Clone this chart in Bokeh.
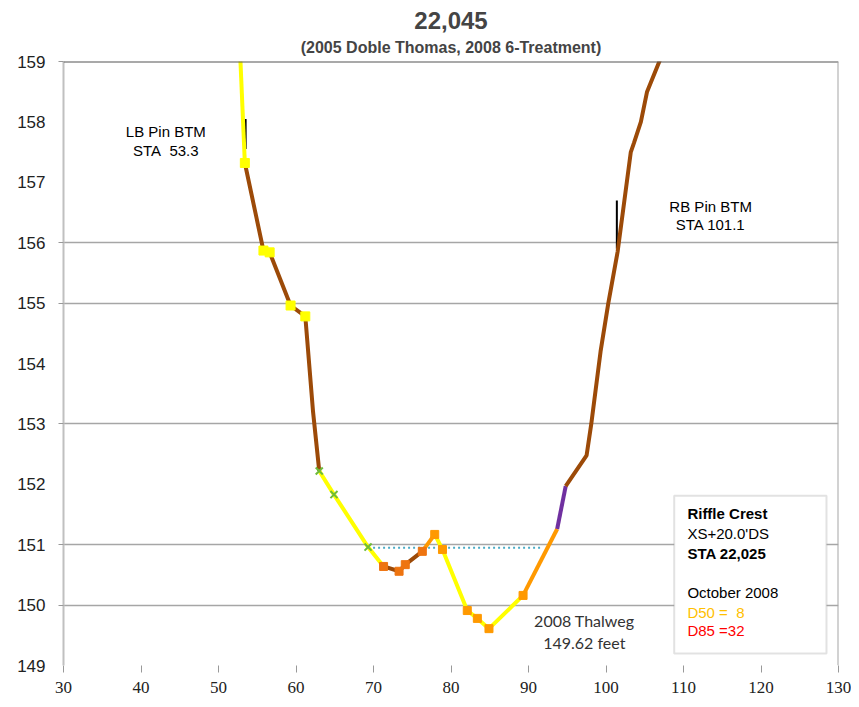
from bokeh.plotting import figure
from bokeh.models import Range1d, FixedTicker, Label, BoxAnnotation, Span, Title
from bokeh.embed import file_html
from bokeh.resources import INLINE

# ---- data (station ft, elevation ft) ----
seg1_x = [52.7, 53.4]
seg1_y = [159.4, 157.32]
seg2_x = [53.4, 55.8, 56.6, 59.3, 61.2, 62.2, 63.0]
seg2_y = [157.32, 155.87, 155.84, 154.96, 154.78, 153.2, 152.22]
seg3_x = [63.0, 64.9, 69.3, 71.3]
seg3_y = [152.22, 151.83, 150.96, 150.64]
seg4_x = [71.3, 73.3, 74.1, 76.3]
seg4_y = [150.64, 150.56, 150.67, 150.89]
seg5_x = [76.3, 77.9]
seg5_y = [150.89, 151.17]
seg6_x = [77.9, 78.9, 82.1, 83.4, 84.9, 89.3]
seg6_y = [151.17, 150.92, 149.91, 149.78, 149.61, 150.16]
seg7_x = [89.3, 93.7]
seg7_y = [150.16, 151.26]
seg8_x = [93.7, 94.8]
seg8_y = [151.26, 151.97]
seg9_x = [94.8, 97.5, 98.1, 99.3, 100.3, 101.5, 103.2, 103.6, 104.5, 105.3, 107.2]
seg9_y = [151.97, 152.48, 153.0, 154.2, 155.0, 155.85, 157.5, 157.65, 158.0, 158.5, 159.1]

yellow_sq_x = [53.4, 55.8, 56.6, 59.3, 61.2]
yellow_sq_y = [157.32, 155.87, 155.84, 154.96, 154.78]
green_x_x = [63.0, 64.9, 69.3]
green_x_y = [152.22, 151.83, 150.96]
orange_dk_x = [71.3, 73.3, 74.1, 76.3]
orange_dk_y = [150.64, 150.56, 150.67, 150.89]
orange_sq_x = [77.9, 78.9, 82.1, 83.4, 84.9, 89.3]
orange_sq_y = [151.17, 150.92, 149.91, 149.78, 149.61, 150.16]

water_x = [69.3, 91.6]
water_y = [150.95, 150.95]

lb_pin_x = [53.5, 53.5]
lb_pin_y = [157.55, 158.05]
rb_pin_x = [101.4, 101.4]
rb_pin_y = [155.9, 156.7]

x_ticks = [30, 40, 50, 60, 70, 80, 90, 100, 110, 120, 130]
y_ticks = [149, 150, 151, 152, 153, 154, 155, 156, 157, 158, 159]
grid_levels = [150, 151, 153, 155, 156]
y_minor = [150, 151, 153, 155, 156, 159]

BROWN = "#9C4A08"
YELLOW = "#FFFF00"
ORANGE = "#FF9900"
DKORANGE = "#EE7410"
PURPLE = "#7030A0"
NB = "\u00a0"

p = figure(width=851, height=699, x_range=Range1d(30, 130), y_range=Range1d(149, 159),
           output_backend="svg", toolbar_location=None, title=None,
           min_border_left=63, min_border_right=13, min_border_top=61, min_border_bottom=34)
p.outline_line_color = None
p.background_fill_color = "white"
p.xgrid.visible = False
p.ygrid.ticker = FixedTicker(ticks=grid_levels)
p.ygrid.grid_line_color = "#A6A6A6"
p.ygrid.grid_line_width = 1.3

p.xaxis.ticker = FixedTicker(ticks=x_ticks)
p.xaxis.axis_line_color = None
p.xaxis.major_tick_line_color = "#999999"
p.xaxis.major_tick_in = 0
p.xaxis.major_tick_out = 7
p.xaxis.minor_tick_line_color = None
p.xaxis.major_label_standoff = 9
p.xaxis.major_label_text_font = "Liberation Sans Narrow"
p.xaxis.major_label_text_font_size = "17px"
p.xaxis.major_label_text_color = "#222222"

p.yaxis.ticker = FixedTicker(ticks=y_ticks, minor_ticks=y_minor)
p.yaxis.axis_line_color = "#C0C0C0"
p.yaxis.axis_line_width = 2
p.yaxis.major_tick_line_color = None
p.yaxis.major_tick_in = 0
p.yaxis.major_tick_out = 5
p.yaxis.minor_tick_line_color = "#999999"
p.yaxis.minor_tick_in = 0
p.yaxis.minor_tick_out = 5
p.yaxis.major_label_standoff = 13
p.yaxis.major_label_text_font = "Liberation Sans"
p.yaxis.major_label_text_font_size = "17px"
p.yaxis.major_label_text_color = "#222222"

p.add_layout(Title(text="(2005 Doble Thomas, 2008 6-Treatment)", align="center", offset=-15,
                   text_font="Liberation Sans", text_font_size="16px", text_font_style="bold",
                   standoff=12), "above")
p.add_layout(Title(text="22,045", align="center", offset=-15,
                   text_font="Liberation Sans", text_font_size="24px", text_font_style="bold",
                   standoff=4), "above")

p.add_layout(Span(location=159, dimension="width", line_color="#555555", line_width=2))
p.add_layout(Span(location=130, dimension="height", line_color="#A6A6A6", line_width=2))

# water surface
p.line(water_x, water_y, line_color="#4BACC6", line_width=2, line_dash="2 3")

# pins
p.line(lb_pin_x, lb_pin_y, line_color="black", line_width=2)
p.line(rb_pin_x, rb_pin_y, line_color="black", line_width=2)

# profile segments
LW = 4
p.line(seg1_x, seg1_y, line_color=YELLOW, line_width=LW)
p.line(seg2_x, seg2_y, line_color=BROWN, line_width=LW)
p.line(seg3_x, seg3_y, line_color=YELLOW, line_width=LW)
p.line(seg4_x, seg4_y, line_color=BROWN, line_width=LW)
p.line(seg5_x, seg5_y, line_color=ORANGE, line_width=LW)
p.line(seg6_x, seg6_y, line_color=YELLOW, line_width=LW)
p.line(seg7_x, seg7_y, line_color=ORANGE, line_width=LW)
p.line(seg8_x, seg8_y, line_color=PURPLE, line_width=LW)
p.line(seg9_x, seg9_y, line_color=BROWN, line_width=LW)

# markers
p.scatter(yellow_sq_x, yellow_sq_y, marker="square", size=9, fill_color=YELLOW, line_color=YELLOW)
p.scatter(green_x_x, green_x_y, marker="x", size=10, line_color="#6DBB3A", line_width=2)
p.scatter(orange_dk_x, orange_dk_y, marker="square", size=8, fill_color=DKORANGE, line_color=DKORANGE)
p.scatter(orange_sq_x, orange_sq_y, marker="square", size=8, fill_color=ORANGE, line_color=ORANGE)

# info box
p.add_layout(BoxAnnotation(left=108.8, right=128.45, top=151.81, bottom=149.2,
                           fill_color="white", fill_alpha=1.0, line_color="#A0A0A0", line_width=2))

def lab(x, y, text, size="15px", color="black", style="normal", align="center", font="Liberation Sans"):
    p.add_layout(Label(x=x, y=y, text=text, text_align=align, text_baseline="middle",
                       text_font=font, text_font_size=size, text_color=color, text_font_style=style))

lab(43.2, 157.84, "LB Pin BTM")
lab(43.2, 157.53, "STA" + NB + " 53.3")
lab(113.5, 156.6, "RB Pin BTM")
lab(113.5, 156.3, "STA 101.1")
lab(97.2, 149.75, "2008 Thalweg", size="16px", font="Lato", color="#333333")
lab(97.2, 149.38, "149.62 feet", size="16px", font="Lato", color="#333333")

lab(110.5, 151.52, "Riffle Crest", style="bold", align="left")
lab(110.5, 151.19, "XS+20.0'DS", align="left")
lab(110.5, 150.86, "STA 22,025", style="bold", align="left")
lab(110.5, 150.21, "October 2008", align="left")
lab(110.5, 149.88, "D50 =" + NB + " 8", color="#FFC000", align="left")
lab(110.5, 149.58, "D85 =32", color="#FF0000", align="left")

open("out.html", "w").write(file_html(p, INLINE))
